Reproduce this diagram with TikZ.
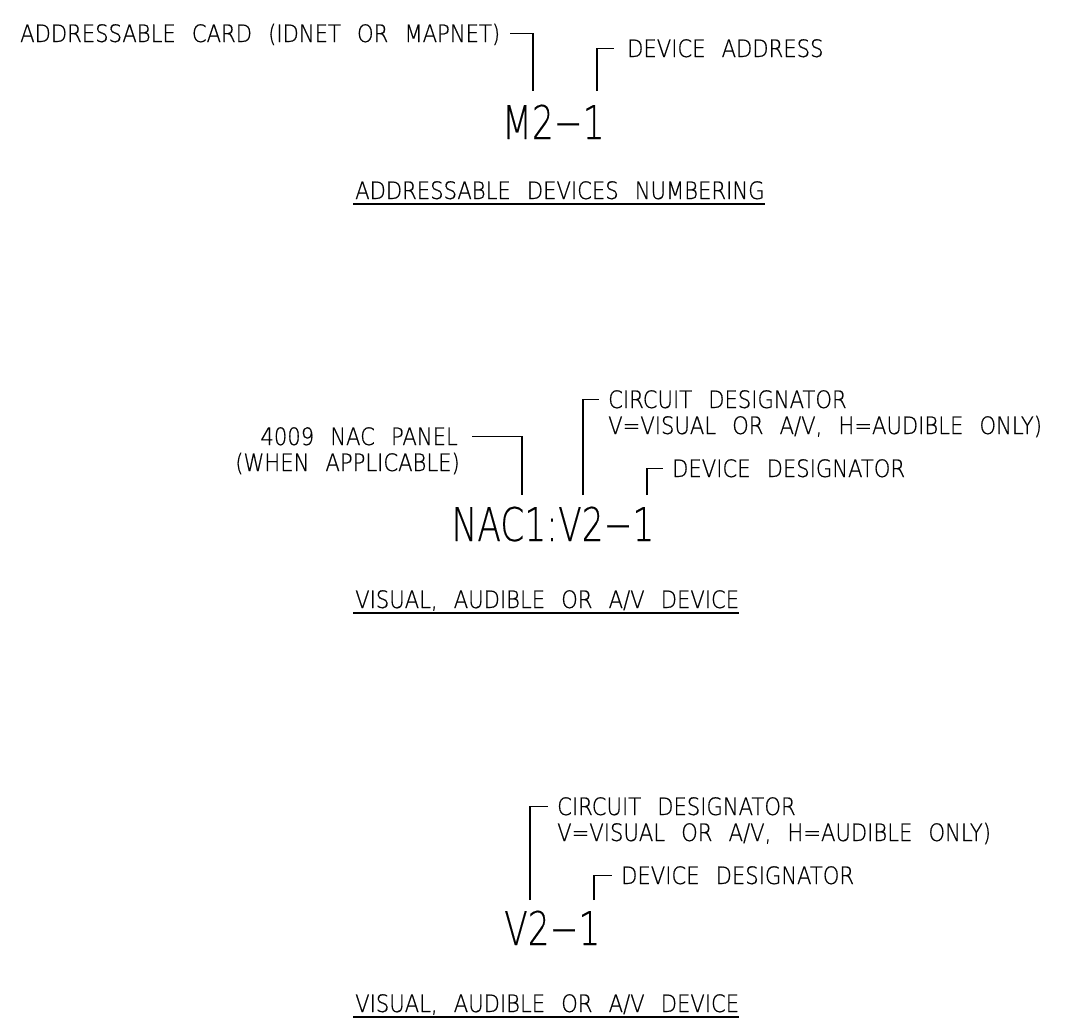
\documentclass[tikz,border=0pt]{standalone}
\usepackage{fontspec}
\setmainfont{DejaVu Sans ExtraLight}[FakeStretch=0.88, WordSpace=2.4, FakeBold=0.6]
\newfontfamily\bigface{DejaVu Sans ExtraLight}[FakeStretch=0.74, FakeBold=0.2]
\usepackage{tikz}
\usetikzlibrary{positioning,calc}

\begin{document}
\begin{tikzpicture}[x=1pt, y=-1pt,
    lbl/.style={inner sep=0pt, font=\fontsize{24}{26}\selectfont},
    big/.style={inner sep=0pt, font=\bigface\fontsize{46.5}{50}\selectfont},
    lead/.style={draw=black, line width=1.3pt}]
    \useasboundingbox (0,0) rectangle (1066,1021);

    % addressable devices numbering
    \node [lbl, anchor=base west] (card) at (20,42) {ADDRESSABLE CARD (IDNET OR MAPNET)};
    \node [lbl, anchor=base west] (addr) at (627,57) {DEVICE ADDRESS};
    \node [big, anchor=base west] (m2) at (502,139) {M2−1};
    \coordinate (cardpt) at (533,91);
    \coordinate (addrpt) at (597,91);
    \draw [lead] ([xshift=10pt, yshift=8.5pt]card.base east) -| (cardpt);
    \draw [lead] (addrpt) |- ([xshift=-13pt, yshift=8.5pt]addr.base west);
    \node [lbl, anchor=base west] (title1) at (355,199) {ADDRESSABLE DEVICES NUMBERING};
    \draw [lead] ([xshift=-2pt, yshift=-5pt]title1.base west) -- ([yshift=-5pt]title1.base east);

    % visual, audible or a/v device (with nac panel)
    \node [lbl, anchor=base east] (pan) at (458,445) {4009 NAC PANEL};
    \node [lbl, anchor=base east] (when) at (460,471) {(WHEN APPLICABLE)};
    \node [lbl, anchor=base west] (ckt) at (608,408) {CIRCUIT DESIGNATOR};
    \node [lbl, anchor=base west] (vis) at (608,434) {V=VISUAL OR A/V, H=AUDIBLE ONLY)};
    \node [lbl, anchor=base west] (dev) at (672,477) {DEVICE DESIGNATOR};
    \node [big, anchor=base east] (nac) at (558,541) {NAC1:};
    \node [big, anchor=base west] (v2) at (558,541) {V2−1};
    \coordinate (panpt) at (522,495);
    \coordinate (cktpt) at (583,495);
    \coordinate (devpt) at (647,495);
    \draw [lead] ([xshift=14pt, yshift=8.5pt]pan.base east) -| (panpt);
    \draw [lead] (cktpt) |- ([xshift=-9pt, yshift=8.5pt]ckt.base west);
    \draw [lead] (devpt) |- ([xshift=-9pt, yshift=8.5pt]dev.base west);
    \node [lbl, anchor=base west] (title2) at (355,608) {VISUAL, AUDIBLE OR A/V DEVICE};
    \draw [lead] ([xshift=-2pt, yshift=-5pt]title2.base west) -- ([yshift=-5pt]title2.base east);

    % visual, audible or a/v device
    \node [lbl, anchor=base west] (ckt3) at (557,815) {CIRCUIT DESIGNATOR};
    \node [lbl, anchor=base west] (vis3) at (557,841) {V=VISUAL OR A/V, H=AUDIBLE ONLY)};
    \node [lbl, anchor=base west] (dev3) at (621,884) {DEVICE DESIGNATOR};
    \node [big, anchor=base west] (v3) at (504,945) {V2−1};
    \coordinate (ckt3pt) at (530,900);
    \coordinate (dev3pt) at (594,900);
    \draw [lead] (ckt3pt) |- ([xshift=-9pt, yshift=8.5pt]ckt3.base west);
    \draw [lead] (dev3pt) |- ([xshift=-9pt, yshift=8.5pt]dev3.base west);
    \node [lbl, anchor=base west] (title3) at (355,1012) {VISUAL, AUDIBLE OR A/V DEVICE};
    \draw [lead] ([xshift=-2pt, yshift=-5pt]title3.base west) -- ([yshift=-5pt]title3.base east);
\end{tikzpicture}
\end{document}
